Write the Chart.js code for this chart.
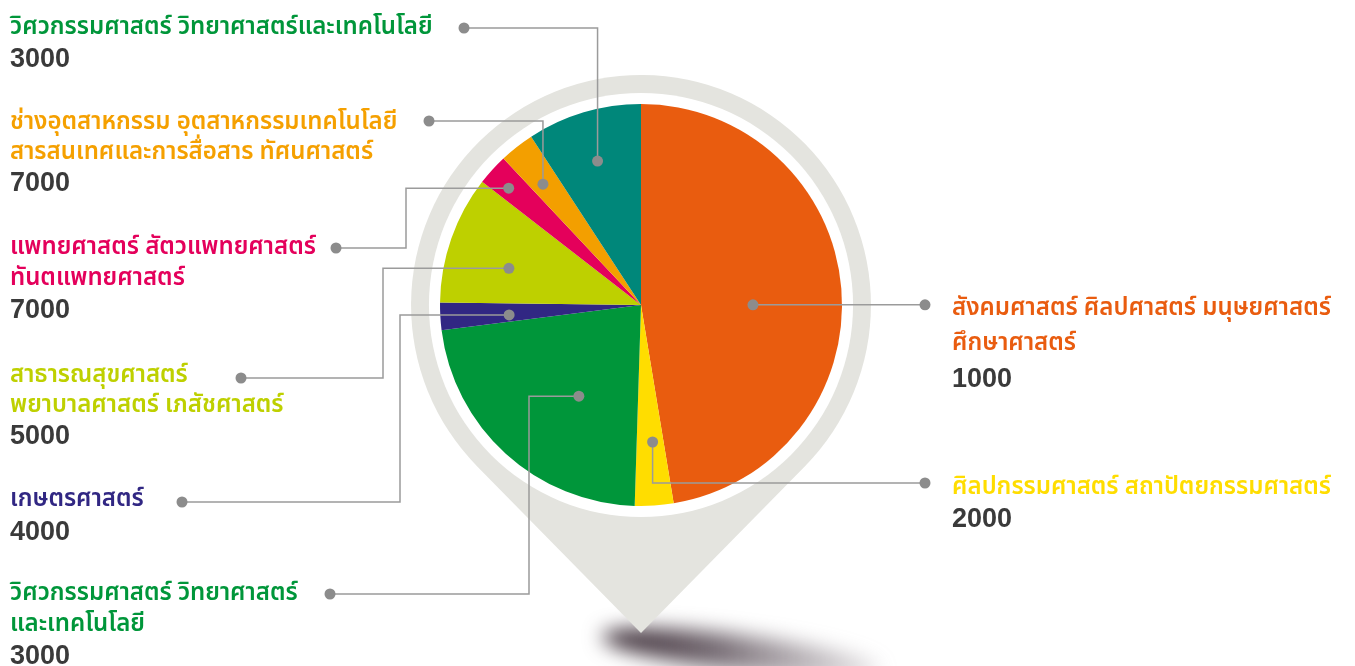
<!DOCTYPE html>
<html lang="th">
<head>
<meta charset="utf-8">
<title>สัดส่วนตามกลุ่มสาขา</title>
<script src="https://cdn.jsdelivr.net/npm/chart.js@4.4.1/dist/chart.umd.min.js"></script>
<style>
  html, body { margin: 0; padding: 0; background: #fff; }
  #wrap { position: relative; width: 1355px; height: 666px; overflow: hidden; }
  #chart { position: absolute; left: 0; top: 0; }
  .lbl {
    position: absolute;
    font-family: "Noto Sans Thai", "Noto Sans Thai Looped", Loma, Garuda, "Noto Sans", sans-serif;
    font-size: 24px;
    font-weight: 600;
    line-height: 30px;
    white-space: nowrap;
  }
  .lbl .num {
    color: #3a3a3a;
    font-family: "Liberation Sans", Arial, sans-serif;
    font-weight: bold;
    font-size: 27px;
  }
</style>
</head>
<body>
<div id="wrap">
  <canvas id="chart" width="1355" height="666"></canvas>
</div>
<script>
// ข้อมูล (เรียงตามเข็มนาฬิกาจากด้านบน)
const categories = [
  'สังคมศาสตร์ ศิลปศาสตร์ มนุษยศาสตร์\nศึกษาศาสตร์',
  'ศิลปกรรมศาสตร์ สถาปัตยกรรมศาสตร์',
  'วิศวกรรมศาสตร์ วิทยาศาสตร์\nและเทคโนโลยี',
  'เกษตรศาสตร์',
  'สาธารณสุขศาสตร์\nพยาบาลศาสตร์ เภสัชศาสตร์',
  'แพทยศาสตร์ สัตวแพทยศาสตร์\nทันตแพทยศาสตร์',
  'ช่างอุตสาหกรรม อุตสาหกรรมเทคโนโลยี\nสารสนเทศและการสื่อสาร ทัศนศาสตร์',
  'วิศวกรรมศาสตร์ วิทยาศาสตร์และเทคโนโลยี'
];
// สัดส่วนของชิ้น (%) อ่านจากภาพ
const shares = [47.4, 3.1, 22.5, 2.2, 10.3, 2.5, 2.8, 9.2];
// ตัวเลขที่แสดงใต้ชื่อ
const counts = [1000, 2000, 3000, 4000, 5000, 7000, 7000, 3000];

const sliceColors = ['#e95c0f', '#ffdd00', '#00963a', '#312783', '#bed000', '#e4005b', '#f39f00', '#00877a'];
const textColors  = ['#e95c0f', '#ffdd00', '#00963a', '#312783', '#bed000', '#e4005b', '#f5a000', '#00963a'];

// ตำแหน่งเส้นชี้ (layout เท่านั้น)
// t = ตำแหน่งตามมุมในชิ้น, rf = สัดส่วนรัศมี, route = เส้นหักมุม
const callouts = [
  { t: 0.527, rf: 0.557, route: [['h', 925]] },
  { t: 0.405, rf: 0.684, route: [['v', 483], ['h', 925]] },
  { t: 0.401, rf: 0.549, route: [['h', 529], ['v', 594], ['h', 330]] },
  { t: 0.363, rf: 0.658, route: [['h', 400], ['v', 502], ['h', 182]] },
  { t: 0.399, rf: 0.682, route: [['h', 383], ['v', 378], ['h', 241]] },
  { t: 0.403, rf: 0.878, route: [['h', 406], ['v', 248], ['h', 336]] },
  { t: 0.410, rf: 0.774, route: [['v', 121], ['h', 429]] },
  { t: 0.493, rf: 0.748, route: [['v', 28], ['h', 464]] }
];
const labelPos = [
  { x: 952, y: 291, lh: 35 },
  { x: 952, y: 472, lh: 31 },
  { x: 10, y: 578, lh: 31 },
  { x: 10, y: 483, lh: 32 },
  { x: 10, y: 360, lh: 30 },
  { x: 10, y: 232, lh: 31 },
  { x: 10, y: 107, lh: 30 },
  { x: 10, y: 12, lh: 31 }
];

// พื้นหลังรูปหมุด + เงา
const pinPlugin = {
  id: 'pin',
  beforeDatasetsDraw(chart) {
    const arc = chart.getDatasetMeta(0).data[0];
    if (!arc) return;
    const ctx = chart.ctx;
    const cx = arc.x, cy = arc.y, R = arc.outerRadius;
    const rOut = R * 1.144, rWhite = R * 1.055;
    const tipY = cy + R * 1.632;

    // เงา
    ctx.save();
    ctx.filter = 'blur(10px)';
    const g = ctx.createLinearGradient(cx - 20, 0, cx + 300, 0);
    g.addColorStop(0, 'rgba(55,40,50,1)');
    g.addColorStop(0.3, 'rgba(85,72,82,0.8)');
    g.addColorStop(1, 'rgba(150,140,148,0)');
    ctx.fillStyle = g;
    ctx.beginPath();
    ctx.ellipse(cx + 100, tipY + 20, 140, 18, 0.12, 0, Math.PI * 2);
    ctx.fill();
    ctx.restore();

    // หมุดสีเทา
    const d = tipY - cy;
    const th = Math.acos(rOut / d);
    ctx.save();
    ctx.fillStyle = '#e4e4df';
    ctx.beginPath();
    ctx.arc(cx, cy, rOut, Math.PI / 2 + th, Math.PI / 2 - th + Math.PI * 2);
    ctx.lineTo(cx, tipY);
    ctx.closePath();
    ctx.fill();
    ctx.fillStyle = '#ffffff';
    ctx.beginPath();
    ctx.arc(cx, cy, rWhite, 0, Math.PI * 2);
    ctx.fill();
    ctx.restore();
  }
};

// เส้นชี้และจุด
const calloutPlugin = {
  id: 'callouts',
  afterDatasetsDraw(chart) {
    const ctx = chart.ctx;
    const arcs = chart.getDatasetMeta(0).data;
    ctx.save();
    arcs.forEach((arc, i) => {
      const c = callouts[i];
      const a = arc.startAngle + (arc.endAngle - arc.startAngle) * c.t;
      const r = arc.outerRadius * c.rf;
      let x = arc.x + Math.cos(a) * r;
      let y = arc.y + Math.sin(a) * r;
      const x0 = x, y0 = y;
      ctx.strokeStyle = '#9b9b9b';
      ctx.lineWidth = 1.5;
      ctx.beginPath();
      ctx.moveTo(x, y);
      for (const [dir, v] of c.route) {
        if (dir === 'h') x = v; else y = v;
        ctx.lineTo(x, y);
      }
      ctx.stroke();
      ctx.fillStyle = '#8c8c8c';
      for (const [px, py] of [[x0, y0], [x, y]]) {
        ctx.beginPath();
        ctx.arc(px, py, 5.5, 0, Math.PI * 2);
        ctx.fill();
      }
    });
    ctx.restore();
  }
};

const chart = new Chart(document.getElementById('chart'), {
  type: 'pie',
  data: {
    labels: categories,
    datasets: [{
      data: shares,
      backgroundColor: sliceColors,
      borderWidth: 0
    }]
  },
  options: {
    responsive: false,
    animation: false,
    events: [],
    layout: { padding: { left: 440, right: 513, top: 104, bottom: 160 } },
    plugins: {
      legend: { display: false },
      tooltip: { enabled: false }
    }
  },
  plugins: [pinPlugin, calloutPlugin]
});

// ป้ายชื่อ
const wrap = document.getElementById('wrap');
categories.forEach((name, i) => {
  const p = labelPos[i];
  const div = document.createElement('div');
  div.className = 'lbl';
  div.style.left = p.x + 'px';
  div.style.top = p.y + 'px';
  div.style.lineHeight = p.lh + 'px';
  div.style.color = textColors[i];
  div.innerHTML = name.split('\n').map(s => `<div>${s}</div>`).join('') +
    `<div class="num">${counts[i]}</div>`;
  wrap.appendChild(div);
});
</script>
</body>
</html>
